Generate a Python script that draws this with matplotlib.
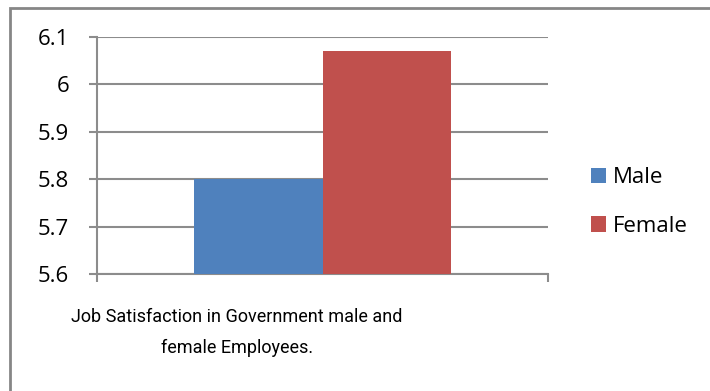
import matplotlib
matplotlib.use("Agg")
import matplotlib.pyplot as plt
from matplotlib.patches import Rectangle

series = ["Male", "Female"]
values = [5.80, 6.07]
colors = ["#4F81BD", "#C0504D"]
yticks = [5.6, 5.7, 5.8, 5.9, 6.0, 6.1]
ytick_labels = ["5.6", "5.7", "5.8", "5.9", "6", "6.1"]
xlabel_lines = ["Job Satisfaction in Government male and", "female Employees."]

plt.rcParams["font.family"] = ["Open Sans", "DejaVu Sans"]
title_font = ["Roboto", "DejaVu Sans"]

W, H = 710, 391
fig = plt.figure(figsize=(W / 100, H / 100), dpi=100)
ax = fig.add_axes([97 / W, (H - 274) / H, (548 - 97) / W, (274 - 37) / H])

grid_c = "#8C8C8C"
width = 0.286
center = 0.5
offsets = [-width / 2, width / 2]
handles = []
for name, v, c, off in zip(series, values, colors, offsets):
    b = ax.bar(center + off, v - 5.6, bottom=5.6, width=width, color=c,
               zorder=3, label=name)
    handles.append(b)

ax.set_xlim(0, 1)
ax.set_ylim(5.6, 6.1)
ax.set_yticks(yticks)
ax.set_yticklabels(ytick_labels, fontsize=16)
ax.yaxis.grid(True, color=grid_c, linewidth=1.5, zorder=0)
ax.set_axisbelow(True)
ax.set_xticks([0, 1])
ax.set_xticklabels([])
ax.tick_params(axis="y", length=6, width=1.5, color=grid_c, pad=14)
ax.tick_params(axis="x", length=6, width=1.5, color=grid_c, direction="out")
for s in ["top", "right"]:
    ax.spines[s].set_visible(False)
for s in ["left", "bottom"]:
    ax.spines[s].set_color(grid_c)
    ax.spines[s].set_linewidth(1.5)

leg = fig.legend(handles=handles, labels=series, loc="center left",
                 bbox_to_anchor=(571 / W, (H - 202) / H), frameon=False,
                 fontsize=16, handlelength=0.68, handleheight=0.68,
                 handletextpad=0.3, labelspacing=1.25)

fig.text(237 / W, (H - 317) / H, xlabel_lines[0], ha="center", va="center",
         fontsize=13, family=title_font)
fig.text(237 / W, (H - 348) / H, xlabel_lines[1], ha="center", va="center",
         fontsize=13, family=title_font)

# outer chart frame (top and left edges visible)
fig.add_artist(Rectangle((9.5 / W, -0.1), 1.2, (H - 8) / H + 0.1,
                         transform=fig.transFigure, fill=False,
                         edgecolor="#868686", linewidth=2.0))

fig.savefig("out.png", dpi=100)
